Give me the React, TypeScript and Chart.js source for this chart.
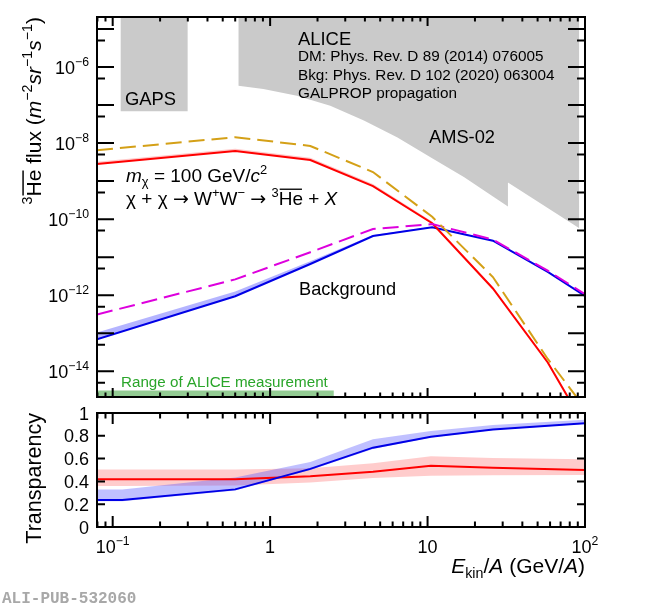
import React, { useEffect, useRef } from "react";
import { Chart, registerables } from "chart.js";

Chart.register(...registerables);

// ---------------- data ----------------
const energyTop = [0.0795, 0.6, 1.8, 4.5, 10.7, 26, 58, 100];
const dmFlux = [2.8e-9, 6.2e-9, 3.6e-9, 7.4e-10, 7.8e-11, 1.5e-12, 1.7e-14, 3.5e-16];
const dmFluxUpper = [3.25e-9, 7.1e-9, 4.1e-9, 8.4e-10, 8.7e-11, 1.65e-12, 1.9e-14, 4e-16];
const dmFluxNoAbs = [6.5e-9, 1.43e-8, 8.4e-9, 1.73e-9, 1.15e-10, 3.0e-12, 2.1e-14, 1.07e-15];
const bkgFlux = [6.9e-14, 9.4e-13, 6.6e-12, 3.6e-11, 6.1e-11, 2.7e-11, 4.1e-12, 9.5e-13];
const bkgFluxUpper = [1.05e-13, 1.25e-12, 7.8e-12, 3.8e-11, 6.3e-11, 2.8e-11, 4.2e-12, 9.7e-13];
const bkgFluxNoAbs = [3.1e-13, 2.6e-12, 1.35e-11, 5.5e-11, 7.4e-11, 2.9e-11, 4.4e-12, 1.07e-12];

const amsEnergy = [0.628, 0.906, 1.48, 2.41, 3.94, 6.44, 10.5, 17.1, 32.4, 32.4, 92];
const amsFlux = [3.2e-7, 2.64e-7, 1.76e-7, 9.6e-8, 3.9e-8, 1.4e-8, 4.2e-9, 1.26e-9, 2.16e-10, 9.2e-10, 5.8e-11];
const gapsEnergy = [0.112, 0.3];
const gapsFlux = [6.9e-8, 6.9e-8];
const aliceRangeEnergy = [0.0795, 2.54];
const aliceRangeFlux = [3.1e-15, 3.1e-15];

const energyBottom = [0.0795, 0.115, 0.6, 1.8, 4.5, 10.5, 26, 100];
const transpBkg = [0.237, 0.237, 0.33, 0.51, 0.696, 0.792, 0.855, 0.91];
const transpBkgUpper = [0.33, 0.33, 0.435, 0.57, 0.77, 0.842, 0.895, 0.94];
const transpBkgLower = [0.225, 0.225, 0.32, 0.5, 0.685, 0.785, 0.85, 0.905];
const transpDM = [0.418, 0.418, 0.418, 0.445, 0.485, 0.538, 0.52, 0.5];
const transpDMUpper = [0.505, 0.505, 0.505, 0.515, 0.56, 0.62, 0.605, 0.594];
const transpDMLower = [0.36, 0.36, 0.365, 0.39, 0.43, 0.45, 0.455, 0.456];

const xMajorTicks = [0.1, 1, 10, 100];
const xTickBase = ["10", "1", "10", "10"];
const xTickExp = ["\u22121", "", "", "2"];
const yTopLabelExps = [-6, -8, -10, -12, -14];
const yBottomTicks = [0, 0.2, 0.4, 0.6, 0.8, 1];
const yBottomLabels = ["0", "0.2", "0.4", "0.6", "0.8", "1"];

const X_MIN = 0.0795;
const X_MAX = 100;
const Y_TOP_MIN = 2.1e-15;
const Y_TOP_MAX = 2.07e-5;

// ---------------- helpers ----------------
const FONT = '"Liberation Sans", Arial, Helvetica, sans-serif';
const SYMFONT = '"DejaVu Sans", "Liberation Sans", sans-serif';
type Seg = { t: string; it?: boolean; sup?: boolean; sub?: boolean; over?: boolean; sym?: boolean };

function segFont(s: Seg, size: number) {
  const sz = s.sup || s.sub ? size * 0.68 : size;
  return `${s.it ? "italic " : ""}${sz}px ${s.sym ? SYMFONT : FONT}`;
}
function richWidth(ctx: CanvasRenderingContext2D, segs: Seg[], size: number) {
  let w = 0;
  for (const s of segs) {
    ctx.font = segFont(s, size);
    w += ctx.measureText(s.t).width;
  }
  return w;
}
function drawRich(
  ctx: CanvasRenderingContext2D,
  segs: Seg[],
  x: number,
  y: number,
  size: number,
  align: "left" | "right" | "center" = "left",
  color = "#000"
) {
  const w = richWidth(ctx, segs, size);
  let cx = align === "left" ? x : align === "right" ? x - w : x - w / 2;
  ctx.save();
  ctx.fillStyle = color;
  ctx.strokeStyle = color;
  ctx.textBaseline = "alphabetic";
  ctx.textAlign = "left";
  for (const s of segs) {
    ctx.font = segFont(s, size);
    const dy = s.sup ? -size * 0.42 : s.sub ? size * 0.22 : 0;
    ctx.fillText(s.t, cx, y + dy);
    const sw = ctx.measureText(s.t).width;
    if (s.over) {
      ctx.lineWidth = Math.max(1, size * 0.07);
      ctx.beginPath();
      ctx.moveTo(cx + 1, y - size * 0.83);
      ctx.lineTo(cx + sw - 1, y - size * 0.83);
      ctx.stroke();
    }
    cx += sw;
  }
  ctx.restore();
}

function xMinorTicks(): number[] {
  const out: number[] = [];
  for (let d = -2; d <= 1; d++) {
    for (let m = 2; m <= 9; m++) out.push(m * Math.pow(10, d));
  }
  return out;
}

function drawXTicks(chart: any, major: number, minor: number) {
  const { ctx, chartArea } = chart;
  const xs = chart.scales.x;
  const draw = (v: number, len: number) => {
    const px = xs.getPixelForValue(v);
    if (px < chartArea.left - 0.5 || px > chartArea.right + 0.5) return;
    ctx.beginPath();
    ctx.moveTo(px, chartArea.bottom);
    ctx.lineTo(px, chartArea.bottom - len);
    ctx.moveTo(px, chartArea.top);
    ctx.lineTo(px, chartArea.top + len);
    ctx.stroke();
  };
  xMajorTicks.forEach((v) => draw(v, major));
  xMinorTicks().forEach((v) => draw(v, minor));
}

function drawFrame(chart: any) {
  const { ctx, chartArea } = chart;
  ctx.strokeRect(chartArea.left, chartArea.top, chartArea.right - chartArea.left, chartArea.bottom - chartArea.top);
}

function drawYTicks(chart: any, values: number[], len: number) {
  const { ctx, chartArea } = chart;
  const ys = chart.scales.y;
  values.forEach((v) => {
    const py = ys.getPixelForValue(v);
    if (py < chartArea.top - 0.5 || py > chartArea.bottom + 0.5) return;
    ctx.beginPath();
    ctx.moveTo(chartArea.left, py);
    ctx.lineTo(chartArea.left + len, py);
    ctx.moveTo(chartArea.right, py);
    ctx.lineTo(chartArea.right - len, py);
    ctx.stroke();
  });
}

const topPlugin = {
  id: "topDecor",
  afterDraw(chart: any) {
    const { ctx, chartArea } = chart;
    const ys = chart.scales.y;
    ctx.save();
    ctx.strokeStyle = "#000";
    ctx.lineWidth = 2;
    drawXTicks(chart, 9, 4.5);
    const decades: number[] = [];
    const halves: number[] = [];
    for (let e = -16; e <= -4; e++) {
      decades.push(Math.pow(10, e));
      halves.push(5 * Math.pow(10, e - 1));
    }
    drawYTicks(chart, decades, 17);
    drawYTicks(chart, halves, 8);
    drawFrame(chart);
    ctx.restore();

    // y tick labels
    yTopLabelExps.forEach((e) => {
      const py = ys.getPixelForValue(Math.pow(10, e));
      drawRich(ctx, [{ t: "10" }, { t: "\u2212" + String(-e), sup: true }], chartArea.left - 8, py + 6.5, 18, "right");
    });

    // y title (rotated)
    ctx.save();
    ctx.translate(40.5, chartArea.top);
    ctx.rotate(-Math.PI / 2);
    drawRich(
      ctx,
      [
        { t: "3", sup: true },
        { t: "He", over: true },
        { t: " flux (" },
        { t: "m", it: true },
        { t: "\u22122", sup: true },
        { t: "sr", it: true },
        { t: "\u22121", sup: true },
        { t: "s", it: true },
        { t: "\u22121", sup: true },
        { t: ")" },
      ],
      0,
      0,
      21,
      "right"
    );
    ctx.restore();

    // annotations
    drawRich(ctx, [{ t: "ALICE" }], 298, 45, 18.4);
    drawRich(ctx, [{ t: "DM: Phys. Rev. D 89 (2014) 076005" }], 298, 61, 15.3);
    drawRich(ctx, [{ t: "Bkg: Phys. Rev. D 102 (2020) 063004" }], 298, 79.5, 15.3);
    drawRich(ctx, [{ t: "GALPROP propagation" }], 298, 98, 15.3);
    drawRich(ctx, [{ t: "AMS-02" }], 429, 143, 18.3);
    drawRich(ctx, [{ t: "GAPS" }], 125, 105, 18.4);
    drawRich(
      ctx,
      [{ t: "m", it: true }, { t: "\u03c7", sub: true }, { t: " = 100 GeV/" }, { t: "c", it: true }, { t: "2", sup: true }],
      126,
      182,
      19
    );
    drawRich(
      ctx,
      [
        { t: "\u03c7 + \u03c7 " },
        { t: "\u2192", sym: true },
        { t: " W" },
        { t: "+", sup: true },
        { t: "W" },
        { t: "\u2212", sup: true },
        { t: " " },
        { t: "\u2192", sym: true },
        { t: " " },
        { t: "3", sup: true },
        { t: "He", over: true },
        { t: " + " },
        { t: "X", it: true },
      ],
      126,
      205,
      19
    );
    drawRich(ctx, [{ t: "Background" }], 299, 295, 18.2);
    drawRich(ctx, [{ t: "Range of ALICE measurement" }], 121, 386.5, 15.2, "left", "#2aa52a");
  },
};

const bottomPlugin = {
  id: "bottomDecor",
  afterDraw(chart: any) {
    const { ctx, chartArea } = chart;
    const xs = chart.scales.x;
    const ys = chart.scales.y;
    ctx.save();
    ctx.strokeStyle = "#000";
    ctx.lineWidth = 2;
    drawXTicks(chart, 11, 5.5);
    drawYTicks(chart, yBottomTicks, 8);
    drawFrame(chart);
    ctx.restore();

    // x labels
    xMajorTicks.forEach((v, i) => {
      const px = xs.getPixelForValue(v);
      const segs: Seg[] = [{ t: xTickBase[i] }];
      if (xTickExp[i]) segs.push({ t: xTickExp[i], sup: true });
      drawRich(ctx, segs, px, chartArea.bottom + 25.5, 18, "center");
    });
    // y labels
    yBottomTicks.forEach((v, i) => {
      const py = ys.getPixelForValue(v);
      drawRich(ctx, [{ t: yBottomLabels[i] }], chartArea.left - 8, py + 6.5, 18, "right");
    });
    // y title
    ctx.save();
    ctx.translate(40.5, chartArea.top);
    ctx.rotate(-Math.PI / 2);
    drawRich(ctx, [{ t: "Transparency" }], 0, 0, 21.5, "right");
    ctx.restore();
    // x title
    drawRich(
      ctx,
      [
        { t: "E", it: true },
        { t: "kin", sub: true },
        { t: "/" },
        { t: "A", it: true },
        { t: " (GeV/" },
        { t: "A", it: true },
        { t: ")" },
      ],
      chartArea.right,
      chartArea.bottom + 46,
      21,
      "right"
    );
    // publication id
    ctx.save();
    ctx.font = 'bold 16px "Liberation Mono", "DejaVu Sans Mono", monospace';
    ctx.fillStyle = "#a8a8a8";
    ctx.textAlign = "left";
    ctx.textBaseline = "alphabetic";
    ctx.fillText("ALI-PUB-532060", 2, 603 - 404);
    ctx.restore();
  },
};

const pts = (xs: number[], ys: number[]) => xs.map((x, i) => ({ x, y: ys[i] }));
const NONE = "rgba(0,0,0,0)";

export default function App() {
  const topRef = useRef<HTMLCanvasElement | null>(null);
  const botRef = useRef<HTMLCanvasElement | null>(null);

  useEffect(() => {
    if (!topRef.current || !botRef.current) return;
    const common = {
      animation: false as const,
      responsive: false,
      maintainAspectRatio: false,
      events: [] as any[],
      plugins: { legend: { display: false }, tooltip: { enabled: false } },
      elements: { line: { tension: 0 }, point: { radius: 0 } },
    };
    const top = new Chart(topRef.current, {
      type: "line",
      data: {
        datasets: [
          { data: pts(amsEnergy, amsFlux), borderColor: NONE, borderWidth: 0, backgroundColor: "#cacaca", fill: "end", order: 10 },
          { data: pts(gapsEnergy, gapsFlux), borderColor: NONE, borderWidth: 0, backgroundColor: "#cacaca", fill: "end", order: 10 },
          { data: pts(aliceRangeEnergy, aliceRangeFlux), borderColor: NONE, borderWidth: 0, backgroundColor: "#93cc93", fill: "start", order: 10 },
          { data: pts(energyTop, dmFluxUpper), borderColor: NONE, borderWidth: 1, fill: false, order: 5 },
          { data: pts(energyTop, dmFlux), borderColor: "#ff0000", borderWidth: 2, backgroundColor: "rgba(255,0,0,0.22)", fill: { target: 3 }, order: 3 },
          { data: pts(energyTop, bkgFluxUpper), borderColor: NONE, borderWidth: 1, fill: false, order: 5 },
          { data: pts(energyTop, bkgFlux), borderColor: "#0000e6", borderWidth: 2, backgroundColor: "rgba(40,40,255,0.35)", fill: { target: 5 }, order: 3 },
          { data: pts(energyTop, dmFluxNoAbs), borderColor: "#d4a017", borderWidth: 2, borderDash: [16, 7], fill: false, order: 2 },
          { data: pts(energyTop, bkgFluxNoAbs), borderColor: "#dd00dd", borderWidth: 2, borderDash: [16, 7], fill: false, order: 2 },
        ],
      },
      options: {
        ...common,
        layout: { padding: { left: 97, top: 17, right: 65, bottom: 7 } },
        scales: {
          x: { type: "logarithmic", min: X_MIN, max: X_MAX, display: false },
          y: { type: "logarithmic", min: Y_TOP_MIN, max: Y_TOP_MAX, display: false },
        },
      } as any,
      plugins: [topPlugin],
    });
    const bottom = new Chart(botRef.current, {
      type: "line",
      data: {
        datasets: [
          { data: pts(energyBottom, transpBkgUpper), borderColor: NONE, borderWidth: 1, fill: false, order: 5 },
          { data: pts(energyBottom, transpBkgLower), borderColor: NONE, borderWidth: 1, backgroundColor: "rgba(60,60,255,0.32)", fill: { target: 0 }, order: 4 },
          { data: pts(energyBottom, transpDMUpper), borderColor: NONE, borderWidth: 1, fill: false, order: 5 },
          { data: pts(energyBottom, transpDMLower), borderColor: NONE, borderWidth: 1, backgroundColor: "rgba(255,0,0,0.2)", fill: { target: 2 }, order: 4 },
          { data: pts(energyBottom, transpBkg), borderColor: "#0000e6", borderWidth: 2, fill: false, order: 1 },
          { data: pts(energyBottom, transpDM), borderColor: "#ff0000", borderWidth: 2, fill: false, order: 1 },
        ],
      },
      options: {
        ...common,
        layout: { padding: { left: 97, top: 9, right: 65, bottom: 79 } },
        scales: {
          x: { type: "logarithmic", min: X_MIN, max: X_MAX, display: false },
          y: { type: "linear", min: 0, max: 1, display: false },
        },
      } as any,
      plugins: [bottomPlugin],
    });
    return () => {
      top.destroy();
      bottom.destroy();
    };
  }, []);

  return (
    <div style={{ position: "absolute", left: 0, top: 0, width: 650, height: 606, background: "#fff" }}>
      <canvas ref={topRef} width={650} height={404} style={{ position: "absolute", left: 0, top: 0, width: 650, height: 404 }} />
      <canvas ref={botRef} width={650} height={202} style={{ position: "absolute", left: 0, top: 404, width: 650, height: 202 }} />
    </div>
  );
}
